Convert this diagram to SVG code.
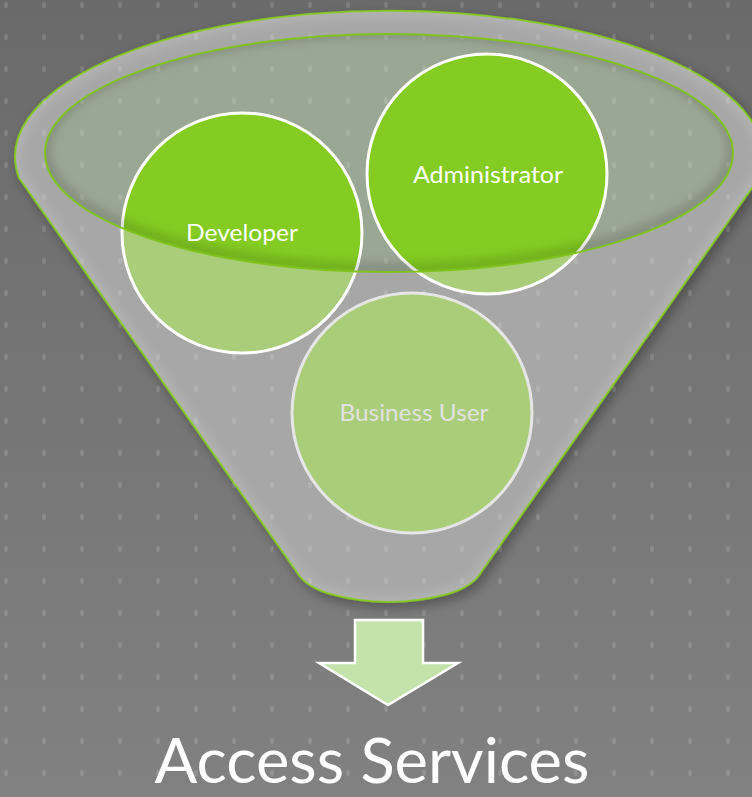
<svg xmlns="http://www.w3.org/2000/svg" width="752" height="797" viewBox="0 0 752 797">
  <defs>
    <linearGradient id="bg" x1="0" y1="0" x2="0" y2="1">
      <stop offset="0" stop-color="#6a6a6a"/>
      <stop offset="1" stop-color="#818181"/>
    </linearGradient>
    <pattern id="dots" patternUnits="userSpaceOnUse" x="0" y="0" width="38" height="32">
      <ellipse cx="6" cy="5" rx="2" ry="3.3" fill="#ffffff" fill-opacity="0.13"/>
    </pattern>
    <filter id="shadow" x="-10%" y="-10%" width="120%" height="125%">
      <feDropShadow dx="4" dy="5" stdDeviation="6" flood-color="#000" flood-opacity="0.3"/>
    </filter>
    <filter id="blur" x="-10%" y="-10%" width="120%" height="120%">
      <feGaussianBlur stdDeviation="5"/>
    </filter>
    <clipPath id="innerClip">
      <ellipse cx="389" cy="153" rx="344" ry="119"/>
    </clipPath>
    <clipPath id="funnelClip">
      <path d="M 19,178 L 296,571 C 301,580 310,588 330,594 Q 389,610 448,594 C 468,588 477,580 482,571 L 759,178 A 374 146 0 1 0 19,178 Z"/>
    </clipPath>
    <style>
      .funnel { fill: #a7a7a7; stroke: #7fc41e; stroke-width: 2; }
      .pale { fill: #a9cd78; }
      .bright { fill: #84cc22; }
      .ring { fill: none; stroke: #ffffff; stroke-width: 3; }
      .ring2 { fill: none; stroke: #e6e6e6; stroke-width: 3; }
      .lbl { font-family: Lato, "Open Sans", "Liberation Sans", sans-serif; font-size: 23px; text-anchor: middle; fill: #ffffff; }
      .lbl2 { fill: #e2e2e2; }
      .big { font-family: Lato, "Open Sans", "Liberation Sans", sans-serif; font-size: 62px; text-anchor: middle; fill: #ffffff; }
    </style>
  </defs>

  <rect x="0" y="0" width="752" height="797" fill="url(#bg)"/>

  <g id="funnel">
    <path class="funnel" filter="url(#shadow)" d="M 19,178 L 296,571 C 301,580 310,588 330,594 Q 389,610 448,594 C 468,588 477,580 482,571 L 759,178 A 374 146 0 1 0 19,178 Z"/>
    <g clip-path="url(#funnelClip)">
      <path d="M 19,178 L 296,571 C 301,580 310,588 330,594 Q 389,610 448,594 C 468,588 477,580 482,571 L 759,178 A 374 146 0 1 0 19,178 Z" fill="none" stroke="#ffffff" stroke-opacity="0.12" stroke-width="14" filter="url(#blur)"/>
    </g>
    <ellipse cx="389" cy="153" rx="344" ry="119" fill="#9ba795"/>
  </g>

  <rect x="0" y="0" width="752" height="797" fill="url(#dots)"/>

  <g id="developer">
    <circle class="pale" cx="242" cy="233" r="120"/>
    <circle class="bright" cx="242" cy="233" r="120" clip-path="url(#innerClip)"/>
    <circle class="ring" cx="242" cy="233" r="120"/>
  </g>
  <g id="administrator">
    <circle class="pale" cx="487" cy="174" r="120"/>
    <circle class="bright" cx="487" cy="174" r="120" clip-path="url(#innerClip)"/>
    <circle class="ring" cx="487" cy="174" r="120"/>
  </g>
  <g id="business-user">
    <circle class="pale" cx="412" cy="413" r="120"/>
    <circle class="ring2" cx="412" cy="413" r="120"/>
  </g>

  <g id="inner-ellipse">
    <g clip-path="url(#innerClip)">
      <ellipse cx="389" cy="150" rx="344" ry="119" fill="none" stroke="#000000" stroke-opacity="0.15" stroke-width="12" filter="url(#blur)"/>
    </g>
    <ellipse cx="389" cy="153" rx="344" ry="119" fill="none" stroke="#7fc41e" stroke-width="2"/>
  </g>

  <g id="labels">
    <text class="lbl" x="242" y="241" textLength="112" lengthAdjust="spacingAndGlyphs">Developer</text>
    <text class="lbl" x="488" y="183" textLength="150" lengthAdjust="spacingAndGlyphs">Administrator</text>
    <text class="lbl lbl2" x="414" y="421" textLength="149" lengthAdjust="spacingAndGlyphs">Business User</text>
  </g>

  <g id="connectors">
    <polygon points="355,620 423,620 423,663 458,663 388,705 319,663 355,663" fill="#c3e3ab" stroke="#ffffff" stroke-width="2.5"/>
  </g>

  <g id="access-services">
    <text class="big" x="372" y="783" textLength="435" lengthAdjust="spacingAndGlyphs">Access Services</text>
  </g>
</svg>
